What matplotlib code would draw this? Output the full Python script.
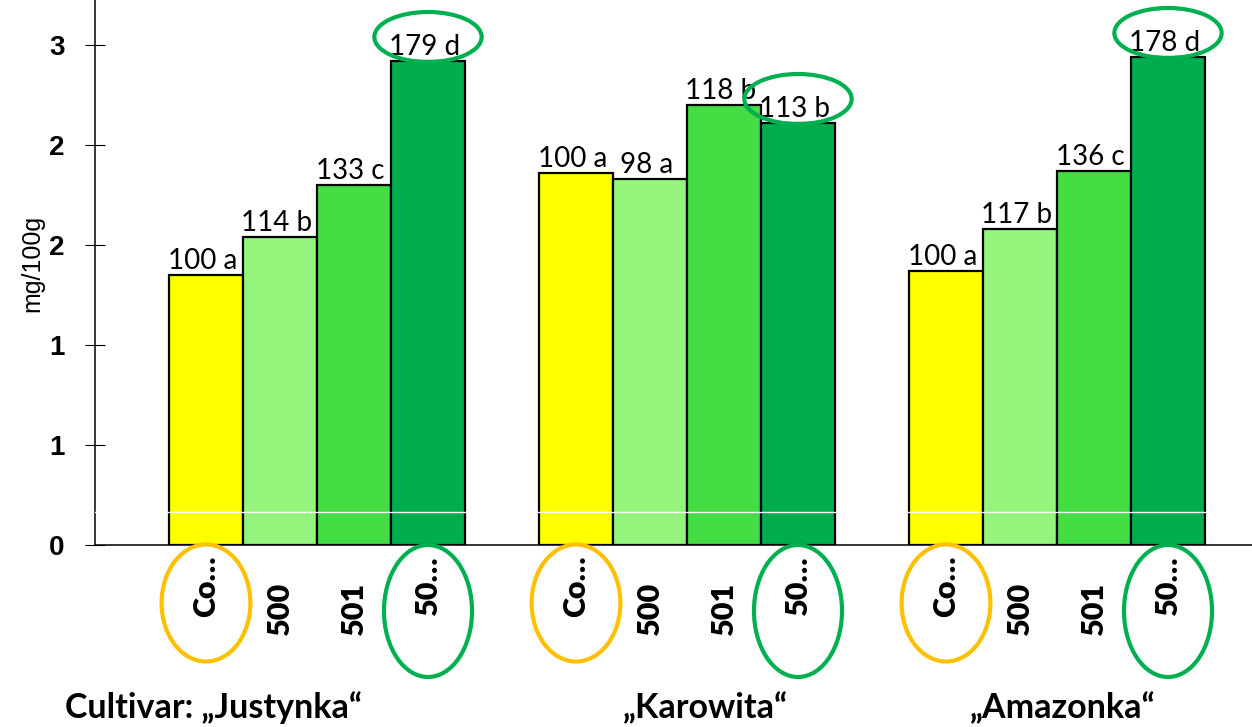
import numpy as np
import matplotlib
matplotlib.use("Agg")
import matplotlib.pyplot as plt
from matplotlib.patches import Ellipse

# ---- data ----
cultivars = ["Cultivar: \u201eJustynka\u201c", "\u201eKarowita\u201c", "\u201eAmazonka\u201c"]
treatments = ["Co\u2026", "500", "501", "50\u2026"]
justynka = [1.35, 1.54, 1.80, 2.42]
karowita = [1.86, 1.83, 2.20, 2.11]
amazonka = [1.37, 1.58, 1.87, 2.44]
justynka_lbl = ["100 a", "114 b", "133 c", "179 d"]
karowita_lbl = ["100 a", "98 a", "118 b", "113 b"]
amazonka_lbl = ["100 a", "117 b", "136 c", "178 d"]
ytick_vals = [0, 0.5, 1.0, 1.5, 2.0, 2.5]
ytick_lbls = ["0", "1", "1", "2", "2", "3"]

colors = ["#FFFF00", "#94F47C", "#44DD44", "#00AD4C"]
ORANGE = "#FFC000"
GREEN = "#00B050"

fig = plt.figure(figsize=(12.52, 7.27), dpi=100)
W, H = 1252, 727
ax = fig.add_axes([95 / W, 1 - 545 / H, 1 - 95 / W, 545 / H])

groups = [justynka, karowita, amazonka]
glabels = [justynka_lbl, karowita_lbl, amazonka_lbl]
starts = [1, 6, 11]

for g, (vals, lbls, s) in enumerate(zip(groups, glabels, starts)):
    xs = np.arange(s, s + len(vals))
    ax.bar(xs, vals, width=1.0, color=colors, edgecolor="black", linewidth=1.6, zorder=2)
    for x, v, t in zip(xs, vals, lbls):
        ax.text(x - 0.05, v + 0.005, t, ha="center", va="bottom", fontsize=20,
                family="Lato", zorder=4)
    # rotated category labels
    for x, t in zip(xs, treatments):
        top_px = 555 if "\u2026" in t else 582
        ax.text(x, -(top_px - 545) / 200, t, rotation=90, ha="center", va="top",
                fontsize=22, fontweight="heavy", family="Lato", clip_on=False)
    # ellipses at top of 4th bar
    ax.add_patch(Ellipse((xs[3], vals[3] + 0.12), 1.45, 0.25, fill=False,
                         edgecolor=GREEN, linewidth=3, zorder=5, clip_on=False))
    # ellipses around tick labels
    ax.add_patch(Ellipse((xs[0], -0.29), 1.2, 0.585, fill=False,
                         edgecolor=ORANGE, linewidth=3, zorder=5, clip_on=False))
    ax.add_patch(Ellipse((xs[3], -0.33), 1.19, 0.66, fill=False,
                         edgecolor=GREEN, linewidth=3, zorder=5, clip_on=False))

ax.axhline(0.165, color="white", linewidth=1, zorder=3)

ax.set_xlim(-0.5, -0.5 + 1157 / 74)
ax.set_ylim(0, 545 / 200)
ax.set_xticks([])
ax.set_yticks(ytick_vals)
ax.set_yticklabels(ytick_lbls, fontsize=20, fontweight="bold", family="Liberation Sans")
ax.tick_params(axis="y", direction="inout", length=14, width=0.8, pad=15)
for sp in ["top", "right"]:
    ax.spines[sp].set_visible(False)
ax.spines["left"].set_linewidth(1.1)
ax.spines["bottom"].set_linewidth(1.1)

fig.text(32 / W, 1 - 263 / H, "mg/100g", rotation=90, ha="center", va="center",
         fontsize=18, family="Liberation Sans")

gx = [65, 623, 970]
for x, t in zip(gx, cultivars):
    fig.text(x / W, 1 - 708 / H, t, ha="left", va="center", fontsize=24.5,
             fontweight="bold", family="Lato")

fig.savefig("out.png", dpi=100)
